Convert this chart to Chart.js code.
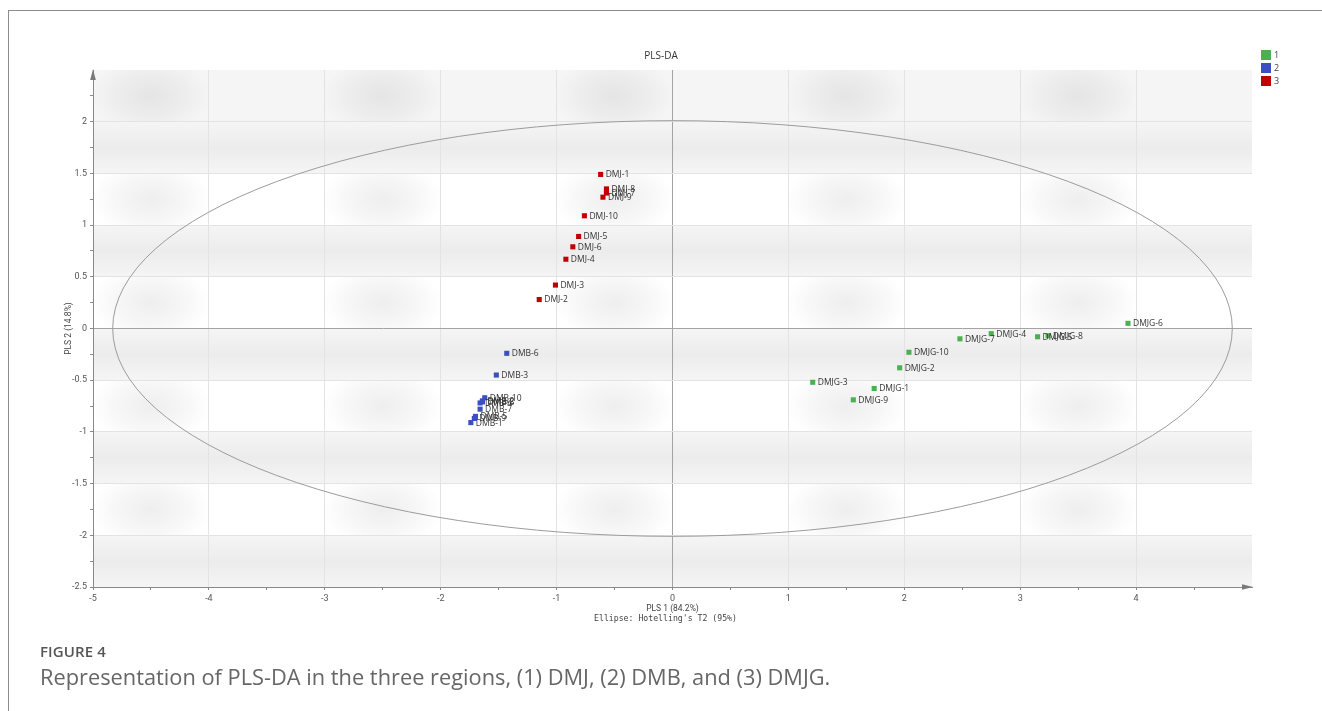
<!DOCTYPE html>
<html>
<head>
<meta charset="utf-8">
<title>PLS-DA</title>
<script src="https://cdn.jsdelivr.net/npm/chart.js@4.4.1/dist/chart.umd.min.js"></script>
<style>
  html, body { margin: 0; padding: 0; background: #fff; }
  body { width: 1322px; height: 711px; position: relative; overflow: hidden; font-family: "Open Sans", sans-serif; }
  #frame { position: absolute; left: 8px; top: 10px; right: -2px; bottom: -2px;
           border-top: 1px solid #8c8c8c; border-left: 1px solid #8c8c8c; }
  #plot { position: absolute; left: 0; top: 0; }
  .fig-num { position: absolute; left: 40px; top: 641px; font-size: 15px; line-height: 20px; font-weight: 600; color: #555; letter-spacing: 0.1px; }
  .fig-cap { position: absolute; left: 40px; top: 663px; font-size: 21.8px; line-height: 28px; color: #666; white-space: nowrap; }
</style>
</head>
<body>
<div id="frame"></div>
<canvas id="plot" width="1322" height="711" style="width:1322px;height:711px"></canvas>
<div class="fig-num">FIGURE 4</div>
<div class="fig-cap">Representation of PLS-DA in the three regions, (1) DMJ, (2) DMB, and (3) DMJG.</div>

<script>
// ---- scores on the first two PLS components ----
const classLabels = ['1', '2', '3'];
const classColors = ['#4caf50', '#3b4fc0', '#c00000'];

// class 1: DMJG samples
const dmjgNames = ['DMJG-1','DMJG-2','DMJG-3','DMJG-4','DMJG-5','DMJG-6','DMJG-7','DMJG-8','DMJG-9','DMJG-10'];
const dmjgPLS1  = [1.74, 1.96, 1.21, 2.75, 3.15, 3.93, 2.48, 3.24, 1.56, 2.04];
const dmjgPLS2  = [-0.58, -0.38, -0.52, -0.05, -0.08, 0.05, -0.10, -0.07, -0.69, -0.23];

// class 2: DMB samples
const dmbNames = ['DMB-1','DMB-2','DMB-3','DMB-4','DMB-5','DMB-6','DMB-7','DMB-8','DMB-9','DMB-10'];
const dmbPLS1  = [-1.74, -1.64, -1.52, -1.66, -1.70, -1.43, -1.66, -1.64, -1.71, -1.62];
const dmbPLS2  = [-0.91, -0.70, -0.45, -0.72, -0.85, -0.24, -0.78, -0.71, -0.87, -0.67];

// class 3: DMJ samples
const dmjNames = ['DMJ-1','DMJ-2','DMJ-3','DMJ-4','DMJ-5','DMJ-6','DMJ-7','DMJ-8','DMJ-9','DMJ-10'];
const dmjPLS1  = [-0.62, -1.15, -1.01, -0.92, -0.81, -0.86, -0.57, -0.57, -0.60, -0.76];
const dmjPLS2  = [1.49, 0.28, 0.42, 0.67, 0.89, 0.79, 1.31, 1.35, 1.27, 1.09];

// Hotelling's T2 (95%) ellipse semi-axes
const t2RadiusPLS1 = 4.83;
const t2RadiusPLS2 = 2.01;

// axis ranges and tick labels
const xRange = [-5, 5];
const yRange = [-2.5, 2.5];
const xTitle = 'PLS 1 (84.2%)';
const yTitle = 'PLS 2 (14.8%)';
const ellipseNote = "Ellipse: Hotelling's T2 (95%)";
const chartTitle = 'PLS-DA';

const toPoints = (xs, ys) => xs.map((x, i) => ({ x: x, y: ys[i] }));

const groups = [
  { names: dmjgNames, xs: dmjgPLS1, ys: dmjgPLS2 },
  { names: dmbNames,  xs: dmbPLS1,  ys: dmbPLS2 },
  { names: dmjNames,  xs: dmjPLS1,  ys: dmjPLS2 }
];

const datasets = groups.map((g, i) => ({
  label: classLabels[i],
  names: g.names,
  data: toPoints(g.xs, g.ys),
  pointStyle: 'rect',
  pointRadius: 3.6,
  pointBackgroundColor: classColors[i],
  pointBorderColor: classColors[i],
  pointBorderWidth: 0,
  showLine: false
}));

const near = (v, step) => Math.abs(v / step - Math.round(v / step)) < 1e-6;

// soft banded backdrop of the score plot
const backdrop = {
  id: 'backdrop',
  beforeDraw(chart) {
    const { ctx, chartArea: a, scales: { x, y } } = chart;
    ctx.save();
    ctx.beginPath();
    ctx.rect(a.left, a.top, a.right - a.left, a.bottom - a.top);
    ctx.clip();
    ctx.fillStyle = '#ffffff';
    ctx.fillRect(a.left, a.top, a.right - a.left, a.bottom - a.top);
    const band = 0.5;
    const nBands = Math.round((yRange[1] - yRange[0]) / band);
    for (let k = 0; k < nBands; k++) {
      const lo = yRange[0] + k * band;
      const yTop = y.getPixelForValue(lo + band);
      const yBot = y.getPixelForValue(lo);
      const h = yBot - yTop;
      if (k % 2 === 0) {
        const g = ctx.createLinearGradient(0, yTop, 0, yBot);
        g.addColorStop(0, '#f5f5f5');
        g.addColorStop(0.5, '#ececec');
        g.addColorStop(1, '#f5f5f5');
        ctx.fillStyle = g;
        ctx.fillRect(a.left, yTop, a.right - a.left, h);
      } else {
        if (k === nBands - 1) {
          ctx.fillStyle = '#f5f5f5';
          ctx.fillRect(a.left, yTop, a.right - a.left, h);
        }
        ctx.save();
        ctx.beginPath();
        ctx.rect(a.left, yTop, a.right - a.left, h);
        ctx.clip();
        for (let c = xRange[0] + 0.5; c < xRange[1]; c += 2) {
          const cx = x.getPixelForValue(c);
          const cy = yTop + h / 2;
          const rx = 60;
          ctx.save();
          ctx.translate(cx, cy);
          ctx.scale(1, (h * 0.75) / rx);
          const rg = ctx.createRadialGradient(0, 0, 0, 0, 0, rx);
          rg.addColorStop(0, 'rgba(0,0,0,0.065)');
          rg.addColorStop(0.6, 'rgba(0,0,0,0.03)');
          rg.addColorStop(1, 'rgba(0,0,0,0)');
          ctx.fillStyle = rg;
          ctx.fillRect(-rx, -rx, rx * 2, rx * 2);
          ctx.restore();
        }
        ctx.restore();
      }
    }
    ctx.restore();
  }
};

// confidence ellipse drawn under the sample markers
const t2Ellipse = {
  id: 't2Ellipse',
  beforeDatasetsDraw(chart) {
    const { ctx, scales: { x, y } } = chart;
    const cx = x.getPixelForValue(0), cy = y.getPixelForValue(0);
    const rx = x.getPixelForValue(t2RadiusPLS1) - cx;
    const ry = cy - y.getPixelForValue(t2RadiusPLS2);
    ctx.save();
    ctx.beginPath();
    ctx.ellipse(cx, cy, rx, ry, 0, 0, Math.PI * 2);
    ctx.strokeStyle = '#9c9c9c';
    ctx.lineWidth = 1;
    ctx.stroke();
    ctx.restore();
  }
};

// sample names beside each marker
const sampleNames = {
  id: 'sampleNames',
  afterDatasetsDraw(chart) {
    const ctx = chart.ctx;
    ctx.save();
    ctx.font = '8.5px "Open Sans"';
    ctx.fillStyle = '#333';
    ctx.textAlign = 'left';
    ctx.textBaseline = 'middle';
    chart.data.datasets.forEach((ds, i) => {
      chart.getDatasetMeta(i).data.forEach((pt, j) => {
        ctx.fillText(ds.names[j], pt.x + 5, pt.y + 0.5);
      });
    });
    ctx.restore();
  }
};

// axis arrows, title, ellipse note and class key
const decorations = {
  id: 'decorations',
  afterDraw(chart) {
    const { ctx, chartArea: a } = chart;
    ctx.save();
    ctx.fillStyle = '#7a7a7a';
    // arrow on the vertical axis
    ctx.beginPath();
    ctx.moveTo(a.left, a.top - 1);
    ctx.lineTo(a.left - 2.8, a.top + 10);
    ctx.lineTo(a.left + 2.8, a.top + 10);
    ctx.closePath();
    ctx.fill();
    // arrow on the horizontal axis
    ctx.beginPath();
    ctx.moveTo(a.right + 1, a.bottom);
    ctx.lineTo(a.right - 10, a.bottom - 2.8);
    ctx.lineTo(a.right - 10, a.bottom + 2.8);
    ctx.closePath();
    ctx.fill();

    // chart title
    ctx.fillStyle = '#333';
    ctx.font = '10px "Open Sans"';
    ctx.textAlign = 'center';
    ctx.textBaseline = 'middle';
    ctx.fillText(chartTitle, chart.width / 2, 56);

    // second line under the x-axis title
    ctx.fillStyle = '#444';
    ctx.font = '8.2px "DejaVu Sans Mono"';
    ctx.fillText(ellipseNote, (a.left + a.right) / 2 - 7, 618.5);

    // class key
    ctx.textAlign = 'left';
    ctx.font = '9px "Open Sans"';
    chart.data.datasets.forEach((ds, i) => {
      const ky = 50 + i * 13;
      ctx.fillStyle = ds.pointBackgroundColor;
      ctx.fillRect(1261, ky, 10, 10);
      ctx.fillStyle = '#444';
      ctx.fillText(ds.label, 1274, ky + 5.5);
    });
    ctx.restore();
  }
};

new Chart(document.getElementById('plot'), {
  type: 'scatter',
  data: { datasets: datasets },
  options: {
    responsive: false,
    animation: false,
    events: [],
    layout: { padding: { left: 0, right: 70, top: 70, bottom: 84 } },
    plugins: { legend: { display: false }, tooltip: { enabled: false }, title: { display: false } },
    scales: {
      x: {
        type: 'linear',
        min: xRange[0], max: xRange[1],
        afterFit: s => { s.height = 40; },
        ticks: {
          stepSize: 0.5, autoSkip: false, maxRotation: 0, padding: 3,
          font: { family: 'Roboto', size: 9 }, color: '#555',
          callback: v => (near(v, 1) && v < xRange[1]) ? String(v) : ''
        },
        grid: {
          drawTicks: true, tickLength: 3, lineWidth: 1,
          color: c => {
            const v = c.tick ? c.tick.value : NaN;
            if (Math.abs(v) < 1e-9) return '#a3a3a3';
            if (near(v, 1) && v > xRange[0] && v < xRange[1]) return '#e3e3e3';
            return 'rgba(0,0,0,0)';
          },
          tickColor: c => (c.tick && c.tick.value < xRange[1]) ? '#8a8a8a' : 'rgba(0,0,0,0)'
        },
        border: { color: '#8a8a8a', width: 1 },
        title: {
          display: true, text: xTitle, color: '#444',
          font: { family: 'Roboto', size: 8.5 },
          padding: { top: 0, bottom: 13 }
        }
      },
      y: {
        type: 'linear',
        min: yRange[0], max: yRange[1],
        afterFit: s => { s.width = 93; },
        ticks: {
          stepSize: 0.25, autoSkip: false, padding: 3,
          font: { family: 'Roboto', size: 9 }, color: '#555',
          callback: v => (near(v, 0.5) && v < yRange[1]) ? String(v) : ''
        },
        grid: {
          drawTicks: true, tickLength: 3, lineWidth: 1,
          color: c => {
            const v = c.tick ? c.tick.value : NaN;
            if (Math.abs(v) < 1e-9) return '#a3a3a3';
            if (near(v, 0.5) && v > yRange[0] && v < yRange[1]) return '#e3e3e3';
            return 'rgba(0,0,0,0)';
          },
          tickColor: c => (c.tick && c.tick.value < yRange[1]) ? '#8a8a8a' : 'rgba(0,0,0,0)'
        },
        border: { color: '#8a8a8a', width: 1 },
        title: {
          display: true, text: yTitle, color: '#444',
          font: { family: 'Roboto', size: 8.5 },
          padding: { top: 64, bottom: 0 }
        }
      }
    }
  },
  plugins: [backdrop, t2Ellipse, sampleNames, decorations]
});
</script>
</body>
</html>
